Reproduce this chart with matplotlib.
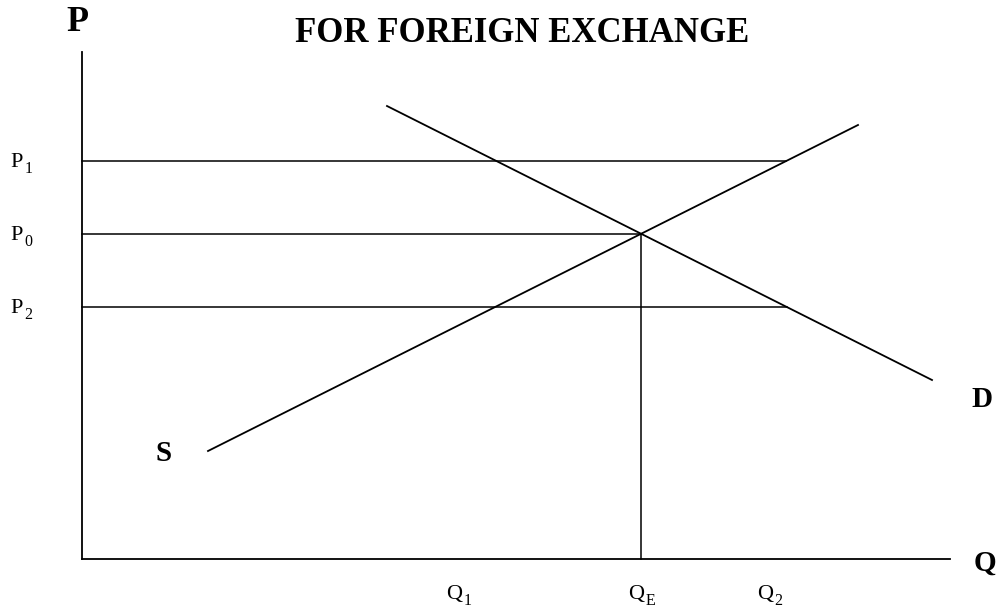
import matplotlib
matplotlib.use("Agg")
import matplotlib.pyplot as plt

plt.rcParams['font.family'] = ['Liberation Serif', 'DejaVu Serif']

# Supply and demand schedules (quantity, price) end points
supply_q = [12.6, 77.6]
supply_p = [10.8, 43.4]
demand_q = [30.5, 85.0]
demand_p = [45.3, 17.9]

# Price levels and quantity markers
price_names = ['P', 'P', 'P']
price_subs = ['1', '0', '2']
price_levels = [39.8, 32.5, 25.2]
qty_names = ['Q', 'Q', 'Q']
qty_subs = ['1', 'E', '2']
qty_positions = [38.0, 56.2, 69.1]

q_max = 86.8
p_max = 50.7

fig = plt.figure(figsize=(9.99, 6.12), dpi=100)
ax = fig.add_axes([0, 0, 1, 1])
ax.set_xlim(-8.2, 91.7)
ax.set_ylim(-5.3, 55.9)
ax.axis('off')

lw = 1.3
# axes
ax.plot([0, 0], [0, p_max], color='black', lw=lw)
ax.plot([0, q_max], [0, 0], color='black', lw=lw)

# curves
ax.plot(supply_q, supply_p, color='black', lw=lw)
ax.plot(demand_q, demand_p, color='black', lw=lw)


def q_at(qs, ps, p):
    return qs[0] + (p - ps[0]) * (qs[1] - qs[0]) / (ps[1] - ps[0])


# equilibrium
s_slope = (supply_p[1] - supply_p[0]) / (supply_q[1] - supply_q[0])
d_slope = (demand_p[1] - demand_p[0]) / (demand_q[1] - demand_q[0])
q_e = (demand_p[0] - supply_p[0] + s_slope * supply_q[0] - d_slope * demand_q[0]) / (s_slope - d_slope)
p_e = supply_p[0] + s_slope * (q_e - supply_q[0])

# horizontal price lines
p1, p0, p2 = price_levels
ax.plot([0, q_at(supply_q, supply_p, p1)], [p1, p1], color='black', lw=1.1)
ax.plot([0, q_e], [p_e, p_e], color='black', lw=1.1)
ax.plot([0, q_at(demand_q, demand_p, p2)], [p2, p2], color='black', lw=1.1)
ax.plot([q_e, q_e], [0, p_e], color='black', lw=1.1)


def sub_label(x, y, name, sub, size=16):
    ax.text(x, y, name, fontsize=size, ha='right', va='baseline')
    ax.annotate(sub, xy=(x, y), xytext=(0.9, -4.3), textcoords='offset points',
                fontsize=size * 0.72, ha='left', va='baseline')


# price labels
for name, sub, p in zip(price_names, price_subs, price_levels):
    sub_label(-5.9, p - 0.6, name, sub)

# quantity labels
for name, sub, q in zip(qty_names, qty_subs, qty_positions):
    sub_label(q, -4.0, name, sub)

# axis and curve names
ax.text(-0.5, 52.8, 'P', fontsize=26, fontweight='bold', ha='center', va='baseline')
ax.text(90.3, -1.2, 'Q', fontsize=21, fontweight='bold', ha='center', va='baseline')
ax.text(90.0, 15.2, 'D', fontsize=21, fontweight='bold', ha='center', va='baseline')
ax.text(8.2, 9.8, 'S', fontsize=21, fontweight='bold', ha='center', va='baseline')

ax.text(44.0, 51.7, 'FOR FOREIGN EXCHANGE', fontsize=25, fontweight='bold',
        ha='center', va='baseline')

fig.savefig('out.png', dpi=100)
